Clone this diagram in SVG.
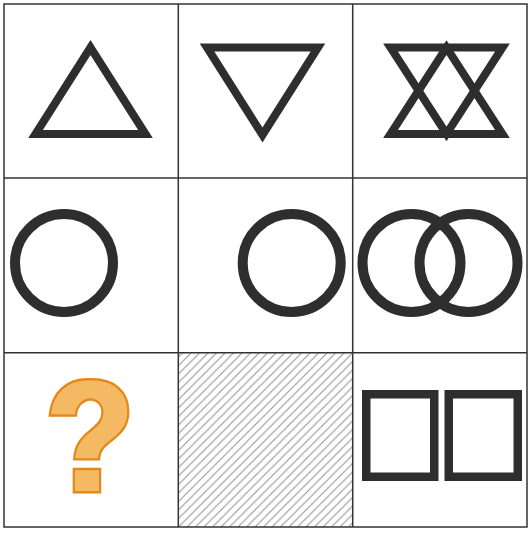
<svg xmlns="http://www.w3.org/2000/svg" width="531" height="535" viewBox="0 0 531 535">
  <style>
    .grid { fill: none; stroke: #333; stroke-width: 1.5; }
    .shape { fill: none; stroke: #2e2e2e; stroke-width: 8; stroke-linejoin: miter; stroke-miterlimit: 10; }
    .ring { fill: none; stroke: #2e2e2e; stroke-width: 10; }
    .box { fill: none; stroke: #2e2e2e; stroke-width: 8.5; }
    .q { font-family: "Liberation Sans", Arial, sans-serif; font-weight: bold; font-size: 158px; fill: #F4BA64; stroke: #E3891A; stroke-width: 5; paint-order: stroke; stroke-linejoin: miter; }
  </style>
  <defs>
    <pattern id="hatch" patternUnits="userSpaceOnUse" width="8.5" height="8.5">
      <path d="M-2,2 L2,-2 M0,8.5 L8.5,0 M6.5,10.5 L10.5,6.5" stroke="#8e8e8e" stroke-width="1"/>
    </pattern>
    <filter id="widen" x="-20%" y="-10%" width="140%" height="120%">
      <feMorphology in="SourceGraphic" operator="dilate" radius="2 0"/>
    </filter>
  </defs>
  <rect width="531" height="535" fill="#fff"/>

  <g id="cell-r3c2">
    <rect x="178" y="353" width="175" height="174" fill="url(#hatch)"/>
  </g>

  <g id="grid">
    <rect class="grid" x="4" y="4" width="523" height="523"/>
    <line class="grid" x1="178.3" y1="4" x2="178.3" y2="527"/>
    <line class="grid" x1="352.7" y1="4" x2="352.7" y2="527"/>
    <line class="grid" x1="4" y1="178" x2="527" y2="178"/>
    <line class="grid" x1="4" y1="352.7" x2="527" y2="352.7"/>
  </g>

  <g id="cell-r1c1">
    <polygon class="shape" points="90.5,47.5 35.5,134 145.5,134"/>
  </g>
  <g id="cell-r1c2">
    <polygon class="shape" points="207,47.5 318,47.5 262.5,135"/>
  </g>
  <g id="cell-r1c3">
    <polygon class="shape" points="446.5,47.5 390.5,134 502.5,134"/>
    <polygon class="shape" points="390.5,47.5 502.5,47.5 446.5,134"/>
  </g>

  <g id="cell-r2c1">
    <circle class="ring" cx="64" cy="263" r="49"/>
  </g>
  <g id="cell-r2c2">
    <circle class="ring" cx="291.7" cy="263" r="49"/>
  </g>
  <g id="cell-r2c3">
    <circle class="ring" cx="411.5" cy="263" r="49"/>
    <circle class="ring" cx="468.5" cy="263" r="49"/>
  </g>

  <g id="cell-r3c1">
    <text class="q" x="90" y="491.5" text-anchor="middle" transform="matrix(0.9 0 0 1 9 0)" filter="url(#widen)">?</text>
  </g>

  <g id="cell-r3c3">
    <rect class="box" x="366.25" y="394.25" width="68" height="82.5"/>
    <rect class="box" x="448.75" y="394.25" width="69" height="82.5"/>
  </g>
</svg>
